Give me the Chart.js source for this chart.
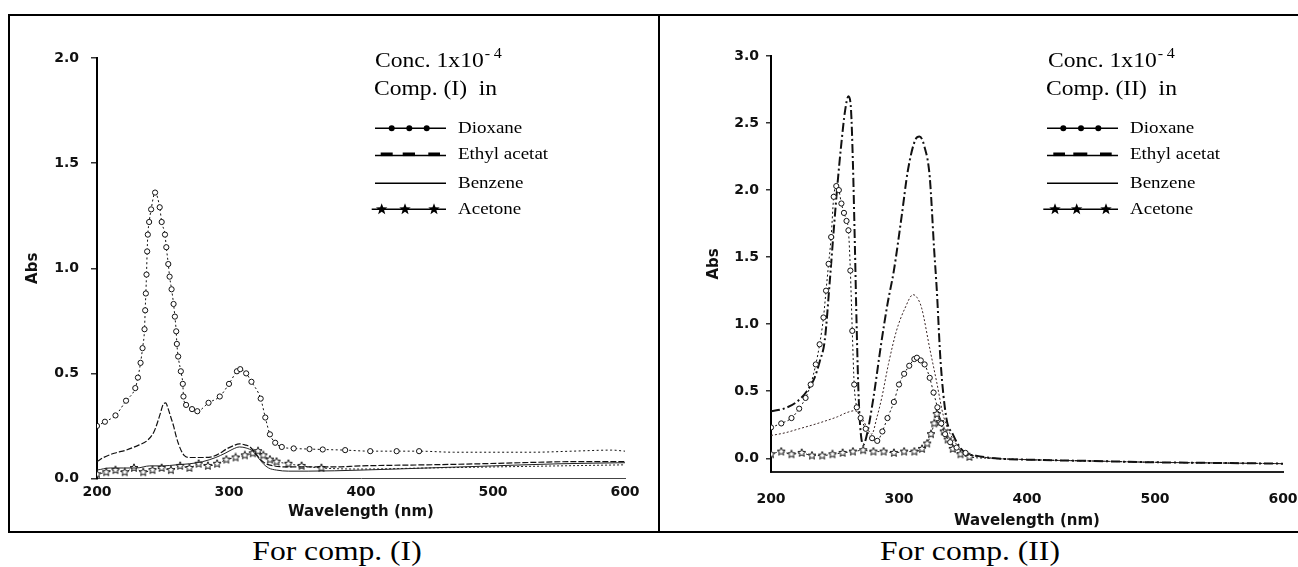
<!DOCTYPE html>
<html>
<head>
<meta charset="utf-8">
<script src="https://cdn.jsdelivr.net/npm/chart.js@4.4.1/dist/chart.umd.min.js"></script>
<style>
html,body{margin:0;padding:0;background:#fff;}
body{width:1298px;height:567px;position:relative;overflow:hidden;font-family:"Liberation Serif","Times New Roman",serif;color:#000;}
.hl{position:absolute;background:#000;}
.cv{position:absolute;}
.t{position:absolute;white-space:nowrap;line-height:1;transform:scaleX(1.15);transform-origin:left center;}
.t sup{font-size:14px;line-height:0;vertical-align:9px;letter-spacing:3px;margin-left:1px;}
.cap{position:absolute;white-space:nowrap;line-height:1;font-size:27px;transform:translateX(-50%) scaleX(1.17);}
.lg{position:absolute;overflow:visible;}
</style>
</head>
<body>
<!-- frame -->
<div class="hl" style="left:8px;top:14px;width:1290px;height:2px;"></div>
<div class="hl" style="left:8px;top:14px;width:2px;height:519px;"></div>
<div class="hl" style="left:658px;top:14px;width:2px;height:519px;"></div>
<div class="hl" style="left:8px;top:531px;width:1290px;height:2px;"></div>

<canvas id="c1" class="cv" width="646" height="514" style="left:10px;top:16px;"></canvas>
<canvas id="c2" class="cv" width="638" height="520" style="left:660px;top:16px;"></canvas>

<!-- annotations, left -->
<div class="t" style="left:374.6px;top:49.8px;font-size:20.5px;">Conc. 1x10<sup>-4</sup></div>
<div class="t" style="left:373.7px;top:77.8px;font-size:20.5px;">Comp. (I)&nbsp; in</div>
<div class="t lab1" style="left:458.3px;top:120.2px;font-size:16.5px;"></div>
<div class="t lab1" style="left:458.3px;top:146.2px;font-size:16.5px;"></div>
<div class="t lab1" style="left:458.3px;top:174.5px;font-size:16.5px;"></div>
<div class="t lab1" style="left:458.3px;top:201.2px;font-size:16.5px;"></div>
<svg class="lg" style="left:370px;top:115px;" width="85" height="105" viewBox="0 0 85 105">
  <line x1="5" y1="13.3" x2="76" y2="13.3" stroke="#000" stroke-width="1.6"/>
  <circle cx="21.7" cy="13.3" r="3" fill="#000"/><circle cx="39.3" cy="13.3" r="3" fill="#000"/><circle cx="56.7" cy="13.3" r="3" fill="#000"/>
  <line x1="5" y1="40.5" x2="76" y2="40.5" stroke="#000" stroke-width="1.4"/>
  <rect x="10.7" y="37.5" width="12" height="3.6" fill="#000"/><rect x="32.7" y="37.5" width="12.3" height="3.6" fill="#000"/><rect x="58.3" y="37.5" width="11.7" height="3.6" fill="#000"/>
  <line x1="5" y1="68.3" x2="76" y2="68.3" stroke="#000" stroke-width="1.4"/>
  <line x1="1.7" y1="94.3" x2="76" y2="94.3" stroke="#000" stroke-width="1.6"/>
  <g class="stars1"></g>
</svg>

<!-- annotations, right -->
<div class="t" style="left:1048.3px;top:49.8px;font-size:20.5px;">Conc. 1x10<sup>-4</sup></div>
<div class="t" style="left:1046px;top:77.8px;font-size:20.5px;">Comp. (II)&nbsp; in</div>
<div class="t lab2" style="left:1130px;top:120.2px;font-size:16.5px;"></div>
<div class="t lab2" style="left:1130px;top:146.2px;font-size:16.5px;"></div>
<div class="t lab2" style="left:1130px;top:174.5px;font-size:16.5px;"></div>
<div class="t lab2" style="left:1130px;top:201.2px;font-size:16.5px;"></div>
<svg class="lg" style="left:1040px;top:115px;" width="85" height="105" viewBox="0 0 85 105">
  <line x1="7" y1="13.3" x2="78" y2="13.3" stroke="#000" stroke-width="1.6"/>
  <circle cx="23.3" cy="13.3" r="3" fill="#000"/><circle cx="41" cy="13.3" r="3" fill="#000"/><circle cx="58.3" cy="13.3" r="3" fill="#000"/>
  <line x1="7" y1="40.5" x2="78" y2="40.5" stroke="#000" stroke-width="1.4"/>
  <rect x="13.3" y="37.5" width="11.7" height="3.6" fill="#000"/><rect x="33.3" y="37.5" width="14" height="3.6" fill="#000"/><rect x="60" y="37.5" width="11.7" height="3.6" fill="#000"/>
  <line x1="7" y1="68.3" x2="78" y2="68.3" stroke="#000" stroke-width="1.4"/>
  <line x1="3.3" y1="94.3" x2="78" y2="94.3" stroke="#000" stroke-width="1.6"/>
  <g class="stars2"></g>
</svg>

<div class="cap" style="left:336.7px;top:538.4px;">For comp. (I)</div>
<div class="cap" style="left:969.5px;top:538.4px;">For comp. (II)</div>

<script>
// ---------- tick labels & names ----------
const xTicks = [200, 300, 400, 500, 600];
const yTicksI = [0, 0.5, 1.0, 1.5, 2.0];
const yTicksII = [0, 0.5, 1.0, 1.5, 2.0, 2.5, 3.0];
const seriesNames = ['Dioxane', 'Ethyl acetat', 'Benzene', 'Acetone'];

// ---------- Comp. (I) ----------
const dioxaneI_nm  = [200,206,214,222,229,231,233,234.5,236,236.5,237,237.5,238,238.5,239.5,241,244,247.5,249,251.5,252.5,254,255,256.5,258,259,260,260.5,261.5,263.5,265,265.5,267.5,272,276,284.5,293,300,306,308.5,313,317,324,327.5,331,335,340,349,361,371,388,407,427,444,470,500,530,560,590,600];
const dioxaneI_abs = [0.25,0.27,0.30,0.37,0.43,0.48,0.55,0.62,0.71,0.80,0.88,0.97,1.08,1.16,1.22,1.28,1.36,1.29,1.22,1.16,1.10,1.02,0.96,0.90,0.83,0.77,0.70,0.64,0.58,0.51,0.45,0.39,0.35,0.33,0.32,0.36,0.39,0.45,0.51,0.52,0.50,0.46,0.38,0.29,0.21,0.17,0.15,0.143,0.14,0.138,0.135,0.13,0.13,0.13,0.125,0.125,0.125,0.13,0.135,0.13];

const ethylI_nm  = [200,205,213,222,232,238,243,246,248,250,252,254,256,258,260,262,264,266,270,276,282,288,293,298,303,308,312,316,320,324,328,334,345,360,380,400,450,490,520,560,600];
const ethylI_abs = [0.08,0.10,0.12,0.135,0.16,0.18,0.22,0.27,0.31,0.35,0.36,0.33,0.29,0.25,0.20,0.16,0.13,0.11,0.10,0.10,0.10,0.105,0.12,0.14,0.155,0.165,0.16,0.15,0.12,0.09,0.07,0.06,0.055,0.055,0.055,0.06,0.065,0.07,0.075,0.08,0.08];

const benzeneI_nm  = [200,210,220,230,240,250,260,270,280,290,297,303,308,313,318,322,326,330,336,345,360,400,450,500,550,600];
const benzeneI_abs = [0.04,0.05,0.05,0.05,0.06,0.06,0.065,0.07,0.08,0.10,0.12,0.14,0.15,0.145,0.13,0.10,0.07,0.05,0.04,0.035,0.035,0.04,0.05,0.06,0.07,0.075];

const acetoneI_nm  = [200,207,214,221,228,235,242,249,256,263,270,277,284,291,298,305,312,318,322,326,331,336,345,355,370,400,450,500,550,600];
const acetoneI_abs = [0.02,0.03,0.04,0.03,0.05,0.03,0.04,0.05,0.04,0.06,0.05,0.07,0.06,0.07,0.09,0.10,0.11,0.12,0.13,0.11,0.09,0.08,0.07,0.06,0.05,0.045,0.05,0.055,0.06,0.065];

// ---------- Comp. (II) ----------
const dioxaneII_nm  = [200,208,216,222,227,231,235,238,241,243,245,247,249,251,253,255,257,259,260.5,262,263.5,265,267,270,274,279,283,287,291,296,300,304,308,312,314,317,320,324,327,330,333,336,340,345,352,365,400,450,500,550,600];
const dioxaneII_abs = [0.23,0.26,0.30,0.37,0.45,0.55,0.70,0.85,1.05,1.25,1.45,1.65,1.95,2.03,2.00,1.90,1.83,1.77,1.70,1.40,0.95,0.55,0.38,0.30,0.22,0.15,0.13,0.20,0.30,0.42,0.55,0.63,0.69,0.74,0.75,0.73,0.70,0.60,0.49,0.38,0.26,0.18,0.12,0.08,0.04,0.01,-0.01,-0.02,-0.03,-0.035,-0.04];

const ethylII_nm  = [200,210,220,228,234,238,242,246,249,252,255,258,260.5,262.5,264,265.5,267,268.5,270,272,275,280,286,291,296,302,307,313,316,320,324,327.5,329.5,332.5,337,342,347,352,360,375,400,450,500,550,600];
const ethylII_abs = [0.35,0.37,0.42,0.50,0.60,0.72,0.88,1.33,1.70,2.05,2.35,2.60,2.70,2.60,2.20,1.60,0.95,0.45,0.20,0.10,0.18,0.45,0.85,1.15,1.40,1.80,2.15,2.38,2.40,2.32,2.10,1.55,1.26,0.72,0.30,0.18,0.09,0.04,0.02,0.0,-0.01,-0.02,-0.03,-0.035,-0.04];

const benzeneII_nm  = [200,211,222,233,243,252,259,265.5,271,276,278.7,282.6,286.5,291.7,298,304.7,311,314,317.7,324,329.4,334.6,342.4,353,365,400,450,500,550,600];
const benzeneII_abs = [0.17,0.19,0.22,0.25,0.28,0.31,0.34,0.355,0.30,0.21,0.18,0.30,0.45,0.70,0.95,1.12,1.22,1.20,1.12,0.82,0.57,0.32,0.14,0.04,0.01,-0.01,-0.02,-0.03,-0.035,-0.04];

const acetoneII_nm  = [200,208,216,224,232,240,248,256,264,272,280,288,296,304,312,318,322,325,327.5,329.5,332,335,338,342,348,355,370,400,450,500,550,600];
const acetoneII_abs = [0.03,0.05,0.03,0.04,0.02,0.02,0.03,0.04,0.05,0.06,0.05,0.05,0.04,0.05,0.05,0.07,0.11,0.18,0.26,0.33,0.27,0.20,0.14,0.07,0.03,0.01,0.0,-0.01,-0.02,-0.03,-0.035,-0.04];

// ---------- legend labels (HTML text) ----------
document.querySelectorAll('.lab1').forEach((el, i) => el.textContent = seriesNames[i]);
document.querySelectorAll('.lab2').forEach((el, i) => el.textContent = seriesNames[i]);

function starPath(cx, cy, R) {
  const r = R * 0.42; let d = '';
  for (let i = 0; i < 10; i++) {
    const a = -Math.PI / 2 + i * Math.PI / 5, rr = i % 2 ? r : R;
    d += (i ? 'L' : 'M') + (cx + rr * Math.cos(a)).toFixed(2) + ' ' + (cy + rr * Math.sin(a)).toFixed(2);
  }
  return d + 'Z';
}
function addStars(sel, xs) {
  const g = document.querySelector(sel);
  xs.forEach(x => {
    const p = document.createElementNS('http://www.w3.org/2000/svg', 'path');
    p.setAttribute('d', starPath(x, 94.3, 6)); p.setAttribute('fill', '#000');
    g.appendChild(p);
  });
}
addStars('.stars1', [11.7, 35, 64]);
addStars('.stars2', [15, 36.7, 66]);

// ---------- star marker for the plots ----------
function starImg(size) {
  const c = document.createElement('canvas'); c.width = c.height = size;
  const g = c.getContext('2d'); const cx = size / 2, cy = size / 2, R = size / 2 - 0.8, r = R * 0.45;
  g.beginPath();
  for (let i = 0; i < 10; i++) {
    const a = -Math.PI / 2 + i * Math.PI / 5, rr = i % 2 ? r : R;
    const px = cx + rr * Math.cos(a), py = cy + rr * Math.sin(a);
    i ? g.lineTo(px, py) : g.moveTo(px, py);
  }
  g.closePath(); g.fillStyle = '#fff'; g.fill(); g.strokeStyle = '#111'; g.lineWidth = 1; g.stroke();
  return c;
}
const STAR = starImg(10);

const pts = (nm, abs) => nm.map((x, i) => ({ x: x, y: abs[i] }));
const upTo = (lim, r) => ctx => (ctx.raw && ctx.raw.x > lim) ? 0 : r;

function makeChart(id, geo, datasets, yMin, yMax, yTicks) {
  const cv = document.getElementById(id);
  const W = cv.width, H = cv.height;
  const padL = geo.yTitle - 13;
  const axisBottom = geo.xTitle + geo.xTitlePadB + 9;
  const tickFont = { family: 'DejaVu Sans', weight: 'bold', size: 14 };
  const titleFont = { family: 'DejaVu Sans', weight: 'bold', size: 15 };
  return new Chart(cv, {
    type: 'line',
    data: { datasets: datasets },
    options: {
      responsive: false, animation: false, devicePixelRatio: 1,
      layout: { padding: { left: padL, top: geo.top, right: W - geo.right, bottom: H - axisBottom } },
      plugins: { legend: { display: false }, tooltip: { enabled: false } },
      elements: { line: { cubicInterpolationMode: 'monotone', fill: false } },
      scales: {
        x: {
          type: 'linear', min: 200, max: 600,
          afterBuildTicks: s => { s.ticks = xTicks.map(v => ({ value: v })); },
          afterFit: s => { s.height = axisBottom - geo.bottom; s.paddingLeft = 0; s.paddingRight = 0; },
          grid: { display: true, drawOnChartArea: false, drawTicks: false },
          border: { display: true, color: geo.xBorderColor, width: geo.xBorderWidth },
          ticks: { padding: geo.xPad, color: '#111', font: tickFont, maxRotation: 0, autoSkip: false },
          title: { display: true, text: 'Wavelength (nm)', color: '#111', font: titleFont, padding: { top: 4, bottom: geo.xTitlePadB } }
        },
        y: {
          type: 'linear', min: yMin, max: yMax,
          afterBuildTicks: s => { s.ticks = yTicks.map(v => ({ value: v })); },
          afterFit: s => { s.width = geo.left - padL; },
          grid: { display: true, drawOnChartArea: false, drawTicks: true, tickLength: geo.tickLen, color: '#333', lineWidth: 1.5 },
          border: { display: true, color: '#000', width: 2 },
          ticks: { padding: geo.yPad, color: '#111', font: tickFont, callback: v => Number(v).toFixed(1) },
          title: { display: true, text: 'Abs', color: '#111', font: titleFont, padding: { top: 4, bottom: 4 } }
        }
      }
    }
  });
}

// ---------- Comp. (I) chart ----------
makeChart('c1',
  { left: 87, right: 615, top: 42, bottom: 462.5, yTitle: 23.5, xTitle: 496, xTitlePadB: 4, xPad: 5, yPad: 12, tickLen: 6, xBorderColor: '#444', xBorderWidth: 1 },
  [
    { label: seriesNames[0], data: pts(dioxaneI_nm, dioxaneI_abs), borderColor: '#111', borderWidth: 1, borderDash: [2, 2.5],
      pointStyle: 'circle', pointRadius: upTo(445, 2.6), pointBackgroundColor: '#fff', pointBorderColor: '#111', pointBorderWidth: 1 },
    { label: seriesNames[1], data: pts(ethylI_nm, ethylI_abs), borderColor: '#111', borderWidth: 1.2, borderDash: [6, 2], pointRadius: 0 },
    { label: seriesNames[2], data: pts(benzeneI_nm, benzeneI_abs), borderColor: '#222', borderWidth: 1, pointRadius: 0 },
    { label: seriesNames[3], data: pts(acetoneI_nm, acetoneI_abs), borderColor: '#222', borderWidth: 1, borderDash: [2, 2],
      pointStyle: STAR, pointRadius: upTo(370, 4) }
  ], 0, 2.0, yTicksI);

// ---------- Comp. (II) chart ----------
makeChart('c2',
  { left: 111, right: 623, top: 40, bottom: 455.7, yTitle: 54, xTitle: 505, xTitlePadB: 4, xPad: 19, yPad: 7, tickLen: 5, xBorderColor: '#222', xBorderWidth: 2 },
  [
    { label: seriesNames[0], data: pts(dioxaneII_nm, dioxaneII_abs), borderColor: '#111', borderWidth: 1, borderDash: [2, 2.5],
      pointStyle: 'circle', pointRadius: upTo(352, 2.6), pointBackgroundColor: '#fff', pointBorderColor: '#111', pointBorderWidth: 1 },
    { label: seriesNames[1], data: pts(ethylII_nm, ethylII_abs), borderColor: '#111', borderWidth: 2, borderDash: [9, 3, 2, 3], pointRadius: 0 },
    { label: seriesNames[2], data: pts(benzeneII_nm, benzeneII_abs), borderColor: '#3a2626', borderWidth: 1, borderDash: [2, 2], pointRadius: 0 },
    { label: seriesNames[3], data: pts(acetoneII_nm, acetoneII_abs), borderColor: '#222', borderWidth: 1, borderDash: [2, 2],
      pointStyle: STAR, pointRadius: upTo(355, 4) }
  ], -0.1, 3.0, yTicksII);
</script>
</body>
</html>
